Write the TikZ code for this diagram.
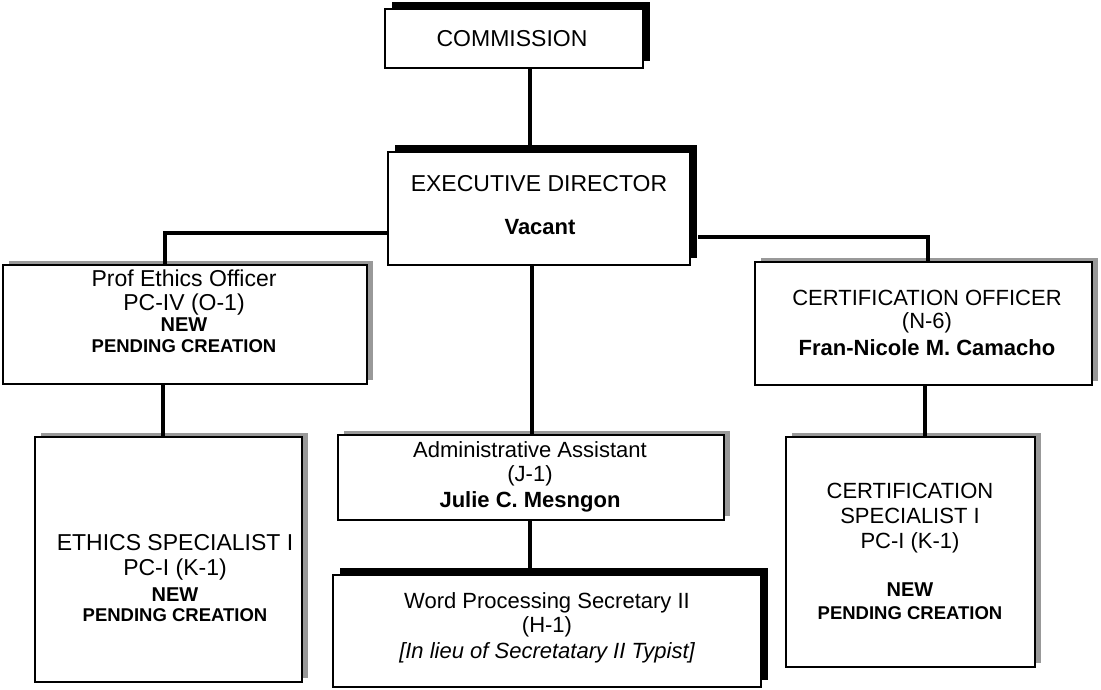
\documentclass[tikz,border=0pt]{standalone}
\usepackage{fontspec}
\setmainfont{Liberation Sans}
\usetikzlibrary{shadows}
\begin{document}
\begin{tikzpicture}[x=1pt,y=-1pt,
  box/.style={draw=black, line width=1.6pt, fill=white, rectangle, inner sep=0pt, outer sep=0pt},
  darkshadow/.style={general shadow={fill=black, shadow xshift=7pt, shadow yshift=7pt}},
  grayshadow/.style={general shadow={fill=black!40, shadow xshift=6pt, shadow yshift=4pt}},
  conn/.style={line width=4pt},
  lbl/.style={anchor=base, inner sep=0pt, font=\fontsize{22}{26}\selectfont},
  lblm/.style={lbl, font=\fontsize{23}{27}\selectfont},
  lblbig/.style={lbl, font=\fontsize{23}{28}\selectfont},
  lblb/.style={lbl, font=\fontsize{22}{26}\selectfont\bfseries},
  lblnew/.style={lbl, font=\fontsize{20}{24}\selectfont\bfseries},
  lblpend/.style={lbl, font=\fontsize{18.5}{22}\selectfont\bfseries},
  lbli/.style={lbl, font=\fontsize{22}{26}\selectfont\itshape}
]
\useasboundingbox (0,0) rectangle (1101,690);
\fill[white] (0,0) rectangle (1101,690);

% boxes
\node[box, darkshadow, minimum width=258pt, minimum height=59pt] (comm) at (514,38.5) {};
\node[box, darkshadow, minimum width=302pt, minimum height=113pt] (ed) at (539,208.5) {};
\node[box, grayshadow, minimum width=364pt, minimum height=119pt] (prof) at (185,324.5) {};
\node[box, grayshadow, minimum width=337pt, minimum height=123pt] (cert) at (923.5,323.5) {};
\node[box, grayshadow, minimum width=267pt, minimum height=245pt] (eths) at (168.5,559.5) {};
\node[box, grayshadow, minimum width=386pt, minimum height=85pt] (admin) at (531,477.5) {};
\node[box, darkshadow, minimum width=428pt, minimum height=112pt] (wp) at (547,631) {};
\node[box, grayshadow, minimum width=249pt, minimum height=230pt] (certs) at (910.5,552) {};

% connector guide coordinates
\coordinate (xc) at (530,0);
\coordinate (xa) at (532,0);
\coordinate (xl) at (165,0);
\coordinate (xr) at (928,0);
\coordinate (yl) at (0,233);
\coordinate (yr) at (0,237);
\coordinate (xls) at (163,0);
\coordinate (xrs) at (925,0);
\coordinate (edr) at (698,0);

% connectors
\draw[conn] (comm.south -| xc) -- ([yshift=7pt]ed.north -| xc);
\draw[conn] (ed.west |- yl) -| (prof.north -| xl);
\draw[conn] (edr |- yr) -| (cert.north -| xr);
\draw[conn] (ed.south -| xa) -- (admin.north -| xa);
\draw[conn] (prof.south -| xls) -- (eths.north -| xls);
\draw[conn] (cert.south -| xrs) -- (certs.north -| xrs);
\draw[conn] (admin.south -| xc) -- ([yshift=7pt]wp.north -| xc);

% texts
\node[lblbig] (t1) at (512,47) {COMMISSION};
\node[lblm] (t2) at (539,192) {EXECUTIVE DIRECTOR};
\node[lblb] (t3) at (540,234) {Vacant};

\node[lblm] (t4) at (184,286) {Prof Ethics Officer};
\node[lblm] (t5) at (184,310) {PC-IV (O-1)};
\node[lblnew] (t6) at (184,331) {NEW};
\node[lblpend] (t7) at (184,352) {PENDING CREATION};

\node[lbl] (t8) at (927,305) {CERTIFICATION OFFICER};
\node[lbl] (t9) at (927,328) {(N-6)};
\node[lblb] (t10) at (927,355) {Fran-Nicole M. Camacho};

\node[lblm] (t11) at (175,550) {ETHICS SPECIALIST I};
\node[lblm] (t12) at (175,575) {PC-I (K-1)};
\node[lblnew] (t13) at (175,601) {NEW};
\node[lblpend] (t14) at (175,621) {PENDING CREATION};

\node[lbl] (t15) at (530,457) {Administrative Assistant};
\node[lbl] (t16) at (530,481) {(J-1)};
\node[lblb] (t17) at (530,507) {Julie C. Mesngon};

\node[lbl] (t18) at (547,608) {Word Processing Secretary II};
\node[lbl] (t19) at (547,632) {(H-1)};
\node[lbli] (t20) at (547,658) {[In lieu of Secretatary II Typist]};

\node[lbl] (t21) at (910,498) {CERTIFICATION};
\node[lbl] (t22) at (910,523) {SPECIALIST I};
\node[lbl] (t23) at (910,548) {PC-I (K-1)};
\node[lblnew] (t24) at (910,596) {NEW};
\node[lblpend] (t25) at (910,619) {PENDING CREATION};
\end{tikzpicture}
\end{document}
